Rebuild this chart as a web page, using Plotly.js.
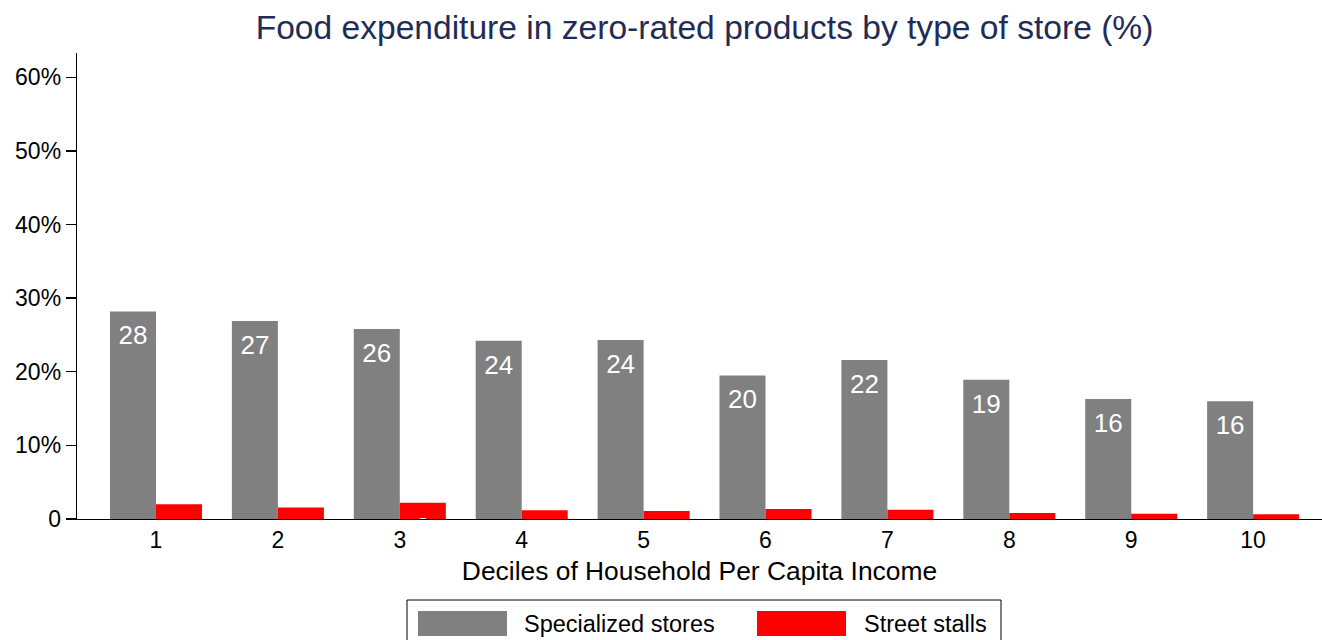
<!DOCTYPE html>
<html>
<head>
<meta charset="utf-8">
<script src="https://cdn.plot.ly/plotly-3.0.1.min.js"></script>
<style>html,body{margin:0;padding:0;background:#fff;}#chart{width:1322px;height:640px;}</style>
</head>
<body>
<div id="chart"></div>
<script>
// ---- data ----
var deciles = [1, 2, 3, 4, 5, 6, 7, 8, 9, 10];
var specialized = [28.2, 26.9, 25.8, 24.2, 24.3, 19.5, 21.6, 18.9, 16.3, 16.0];
var streetStalls = [2.0, 1.55, 2.2, 1.2, 1.1, 1.35, 1.27, 0.8, 0.7, 0.63];
var seriesNames = ['Specialized stores', 'Street stalls'];
var yTickVals = [0, 10, 20, 30, 40, 50, 60];
var yTickText = ['0', '10%', '20%', '30%', '40%', '50%', '60%'];
var titleText = 'Food expenditure in zero-rated products by type of store (%)';
var xTitleText = 'Deciles of Household Per Capita Income';

// ---- layout constants ----
var W = 1322, H = 640;
var M = {l: 77, r: 0, t: 53, b: 121};
var plotW = W - M.l - M.r, plotH = H - M.t - M.b;
var FONT = 'Liberation Sans, Arial, Helvetica, sans-serif';
var GREY = '#808080', RED = '#ff0000';
var bargap = 0.245;
var half = (1 - bargap) / 4; // half of one bar's width in x units -> bar centre offset

function px2x(px) { return (px - M.l) / plotW; }
function py2y(py) { return (H - M.b - py) / plotH; }

var traces = [
  {type: 'bar', name: seriesNames[0], x: deciles, y: specialized,
   marker: {color: GREY, line: {width: 0}}, hoverinfo: 'y', showlegend: false},
  {type: 'bar', name: seriesNames[1], x: deciles, y: streetStalls,
   marker: {color: RED, line: {width: 0}}, hoverinfo: 'y', showlegend: false},
  {type: 'scatter', mode: 'markers+text', x: deciles.map(function(d){return d - half;}), y: specialized,
   text: specialized.map(function(v){return String(Math.round(v));}),
   textposition: 'bottom center', textfont: {family: FONT, size: 26, color: '#ffffff'},
   marker: {size: 20, opacity: 0}, cliponaxis: true, hoverinfo: 'skip', showlegend: false},
  {type: 'scatter', mode: 'markers+text', x: deciles.map(function(d){return d + half;}), y: streetStalls,
   text: streetStalls.map(function(v){return String(Math.round(v));}),
   textposition: 'bottom center', textfont: {family: FONT, size: 26, color: '#ffffff'},
   marker: {size: 20, opacity: 0}, cliponaxis: true, hoverinfo: 'skip', showlegend: false}
];

// manual legend (shapes + annotations)
var legTop = 600, legBot = 645, legL = 407, legR = 1001;
var sw = [{x0: 418, x1: 507, color: GREY, tx: 522, label: seriesNames[0]},
          {x0: 757, x1: 846, color: RED, tx: 862, label: seriesNames[1]}];
var shapes = [{type: 'rect', xref: 'paper', yref: 'paper', x0: px2x(legL), x1: px2x(legR),
               y0: py2y(legBot), y1: py2y(legTop), line: {color: '#000', width: 1}, fillcolor: '#fff'}];
var annotations = [];
sw.forEach(function(s) {
  shapes.push({type: 'rect', xref: 'paper', yref: 'paper', x0: px2x(s.x0), x1: px2x(s.x1),
               y0: py2y(636), y1: py2y(611), line: {width: 0}, fillcolor: s.color});
  annotations.push({xref: 'paper', yref: 'paper', x: px2x(s.tx), y: py2y(624), xanchor: 'left', yanchor: 'middle',
                    text: s.label, showarrow: false, font: {family: FONT, size: 23.5, color: '#000'}});
});

var layout = {
  width: W, height: H, margin: M,
  paper_bgcolor: '#fff', plot_bgcolor: '#fff',
  font: {family: FONT, color: '#000'},
  title: {text: titleText, font: {family: FONT, size: 33.6, color: '#1f2d56'},
          x: px2x(704.5), xref: 'paper', xanchor: 'center', y: 1 - 27/H, yref: 'container', yanchor: 'middle'},
  barmode: 'group', bargap: bargap, bargroupgap: 0,
  xaxis: {range: [0.352, 10.565], tickvals: deciles, ticktext: deciles.map(String), ticks: '',
          showline: true, linecolor: '#000', linewidth: 1.3, showgrid: false, zeroline: false,
          tickfont: {family: FONT, size: 23, color: '#000'},
          title: {text: xTitleText, font: {family: FONT, size: 26.4, color: '#000'}, standoff: 9}},
  yaxis: {range: [0, 63.3], tickvals: yTickVals, ticktext: yTickText, ticks: 'outside', ticklen: 10,
          tickcolor: '#000', tickwidth: 1.3, showline: true, linecolor: '#000', linewidth: 1.3,
          showgrid: false, zeroline: false, tickfont: {family: FONT, size: 23, color: '#000'}},
  shapes: shapes, annotations: annotations, showlegend: false
};

Plotly.newPlot('chart', traces, layout, {displayModeBar: false, staticPlot: true});
</script>
</body>
</html>
